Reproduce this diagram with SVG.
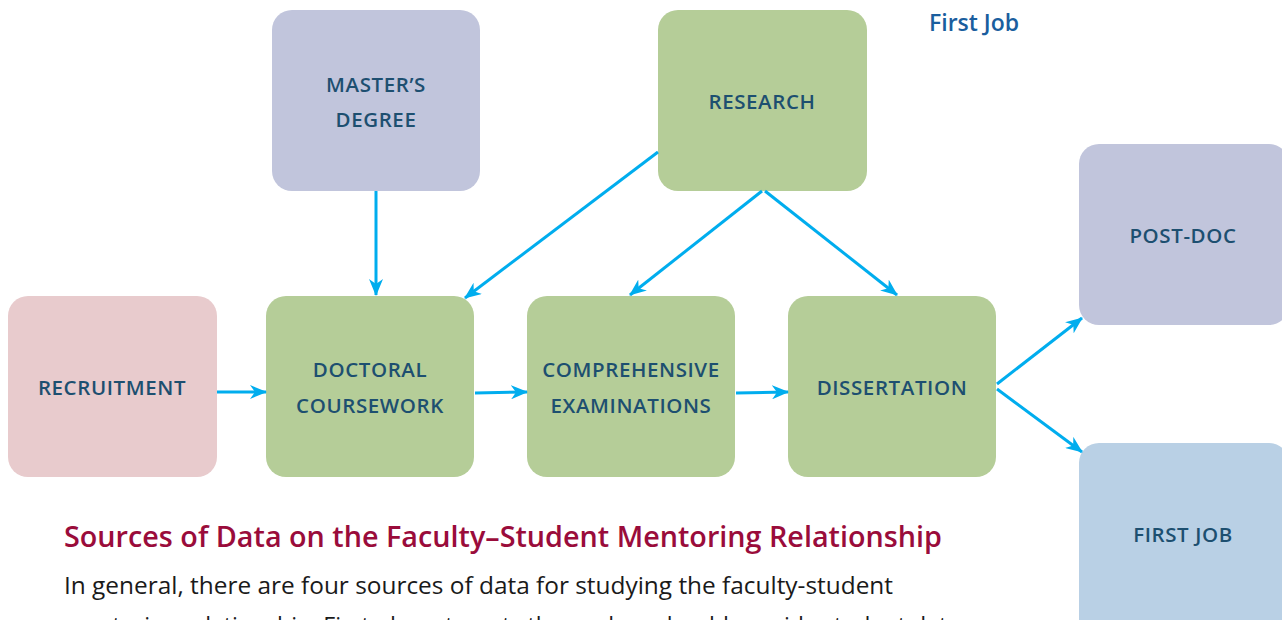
<svg xmlns="http://www.w3.org/2000/svg" width="1282" height="620" viewBox="0 0 1282 620">
<defs>
<style>
.box{stroke:none}
.purple{fill:#c1c5dc}
.green{fill:#b5cd98}
.pink{fill:#e8cbcd}
.blue{fill:#b9d0e5}
.lbl{font-family:"Open Sans","Noto Sans",sans-serif;font-weight:600;font-size:20.5px;fill:#1d4f70;text-anchor:middle;letter-spacing:0.6px}
.conn{stroke:#00adee;stroke-width:3;fill:none;marker-end:url(#ah)}
.head{font-family:"Open Sans","Noto Sans",sans-serif;font-weight:600;font-size:29px;fill:#9a0c3b}
.body{font-family:"Open Sans","Noto Sans",sans-serif;font-size:24px;fill:#1a1a1a}
.top{font-family:"Open Sans","Noto Sans",sans-serif;font-weight:600;font-size:23px;fill:#1a5e9e}
</style>
<marker id="ah" markerUnits="userSpaceOnUse" markerWidth="18" markerHeight="14" refX="16" refY="7" orient="auto">
<path d="M0,0 L17,7 L0,14 L5,7 Z" fill="#00adee"/>
</marker>
</defs>
<text class="top" x="929" y="31">First Job</text>
<g id="masters"><rect class="box purple" x="272" y="10" width="208" height="181" rx="20"/><text class="lbl" x="376" y="92">MASTER’S</text><text class="lbl" x="376" y="127">DEGREE</text></g>
<g id="research"><rect class="box green" x="658" y="10" width="209" height="181" rx="20"/><text class="lbl" x="762" y="109">RESEARCH</text></g>
<g id="recruitment"><rect class="box pink" x="8" y="296" width="209" height="181" rx="20"/><text class="lbl" x="112" y="395">RECRUITMENT</text></g>
<g id="coursework"><rect class="box green" x="266" y="296" width="208" height="181" rx="20"/><text class="lbl" x="370" y="377">DOCTORAL</text><text class="lbl" x="370" y="413">COURSEWORK</text></g>
<g id="comprehensive"><rect class="box green" x="527" y="296" width="208" height="181" rx="20"/><text class="lbl" x="631" y="377">COMPREHENSIVE</text><text class="lbl" x="631" y="413">EXAMINATIONS</text></g>
<g id="dissertation"><rect class="box green" x="788" y="296" width="208" height="181" rx="20"/><text class="lbl" x="892" y="395">DISSERTATION</text></g>
<g id="postdoc"><rect class="box purple" x="1079" y="144" width="210" height="181" rx="20"/><text class="lbl" x="1183" y="243">POST-DOC</text></g>
<g id="firstjob"><rect class="box blue" x="1079" y="443" width="210" height="200" rx="20"/><text class="lbl" x="1183" y="542">FIRST JOB</text></g>
<g id="connectors">
<line class="conn" x1="217" y1="392" x2="266" y2="392"/>
<line class="conn" x1="475" y1="393" x2="527" y2="392"/>
<line class="conn" x1="736" y1="393" x2="788" y2="392"/>
<line class="conn" x1="376" y1="191" x2="376" y2="295"/>
<line class="conn" x1="658" y1="152" x2="465" y2="298"/>
<line class="conn" x1="762" y1="191" x2="630" y2="295"/>
<line class="conn" x1="765" y1="191" x2="897" y2="295"/>
<line class="conn" x1="997" y1="384" x2="1082" y2="318"/>
<line class="conn" x1="997" y1="389" x2="1082" y2="452"/>
</g>
<text class="head" x="64" y="547" textLength="878" lengthAdjust="spacingAndGlyphs">Sources of Data on the Faculty–Student Mentoring Relationship</text>
<text class="body" x="64" y="594" textLength="829" lengthAdjust="spacingAndGlyphs">In general, there are four sources of data for studying the faculty-student</text>
<text class="body" x="64" y="634" textLength="896" lengthAdjust="spacingAndGlyphs">mentoring relationship. First, departments themselves should provide student data</text>
</svg>
